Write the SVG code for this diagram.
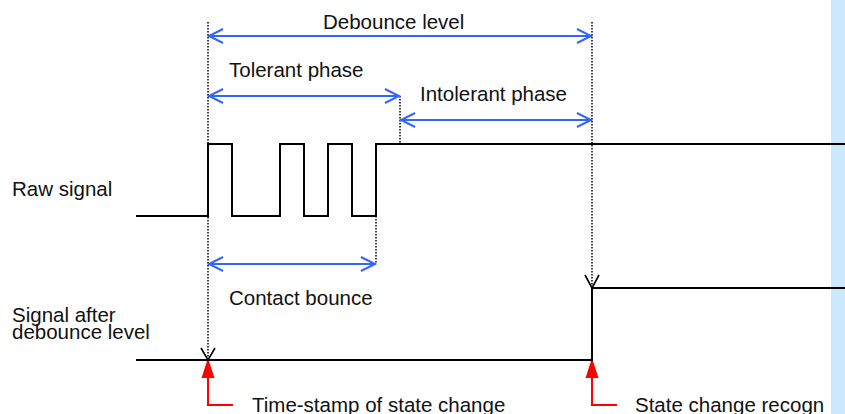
<svg xmlns="http://www.w3.org/2000/svg" width="845" height="414" viewBox="0 0 845 414">
<style>
text{font-family:"Liberation Sans",Arial,sans-serif;font-size:20.5px;fill:#111}
.sig{fill:none;stroke:#000;stroke-width:2}
.dot{fill:none;stroke:#000;stroke-width:1.5;stroke-dasharray:1.5 1.5}
.blue{fill:none;stroke:#3366ff;stroke-width:2}
.vh{fill:none;stroke:#000;stroke-width:1.6}
.red{fill:none;stroke:#ff0000;stroke-width:2}
</style>
<rect x="0" y="0" width="845" height="414" fill="#fff"/>
<g id="guides">
<line class="dot" x1="208" y1="22" x2="208" y2="358"/>
<line class="dot" x1="592" y1="22" x2="592" y2="286"/>
<line class="dot" x1="400" y1="96" x2="400" y2="144"/>
<line class="dot" x1="376" y1="216" x2="376" y2="264"/>
</g>
<g id="labels">
<text x="323" y="29">Debounce level</text>
<text x="229" y="77">Tolerant phase</text>
<text x="420" y="101">Intolerant phase</text>
<text x="12" y="196">Raw signal</text>
<text x="229" y="305">Contact bounce</text>
<text x="12" y="322">Signal after</text>
<text x="12" y="339">debounce level</text>
<text x="252" y="412">Time-stamp of state change</text>
<text x="635" y="412">State change recogn</text>
</g>
<rect id="strip" x="831" y="0" width="14" height="414" fill="#cce8fd"/>
<g id="connectors">
<g id="debounce-arrow">
<line class="blue" x1="208" y1="36" x2="592" y2="36"/>
<polyline class="blue" points="223,29 209,36 223,43"/>
<polyline class="blue" points="577,29 591,36 577,43"/>
</g>
<g id="tolerant-arrow">
<line class="blue" x1="208" y1="96" x2="400" y2="96"/>
<polyline class="blue" points="223,89 209,96 223,103"/>
<polyline class="blue" points="385,89 399,96 385,103"/>
</g>
<g id="intolerant-arrow">
<line class="blue" x1="400" y1="120" x2="592" y2="120"/>
<polyline class="blue" points="415,113 401,120 415,127"/>
<polyline class="blue" points="577,113 591,120 577,127"/>
</g>
<g id="bounce-arrow">
<line class="blue" x1="208" y1="264" x2="376" y2="264"/>
<polyline class="blue" points="223,257 209,264 223,271"/>
<polyline class="blue" points="361,257 375,264 361,271"/>
</g>
<polyline class="vh" points="201,348 208,360 215,348"/>
<polyline class="vh" points="585,275 592,288 599,275"/>
<g id="red-1">
<polygon points="208,358 201.5,378 214.5,378" fill="#ff0000"/>
<polyline class="red" points="208,376 208,405 233,405"/>
</g>
<g id="red-2">
<polygon points="592,358 585.5,378 598.5,378" fill="#ff0000"/>
<polyline class="red" points="592,376 592,405 617,405"/>
</g>
</g>
<g id="raw-signal">
<polyline class="sig" points="136,216 208,216 208,144 232,144 232,216 280,216 280,144 304,144 304,216 328,216 328,144 352,144 352,216 376,216 376,144 845,144"/>
</g>
<g id="debounced-signal">
<polyline class="sig" points="136,360 592,360 592,288 845,288"/>
</g>
</svg>
